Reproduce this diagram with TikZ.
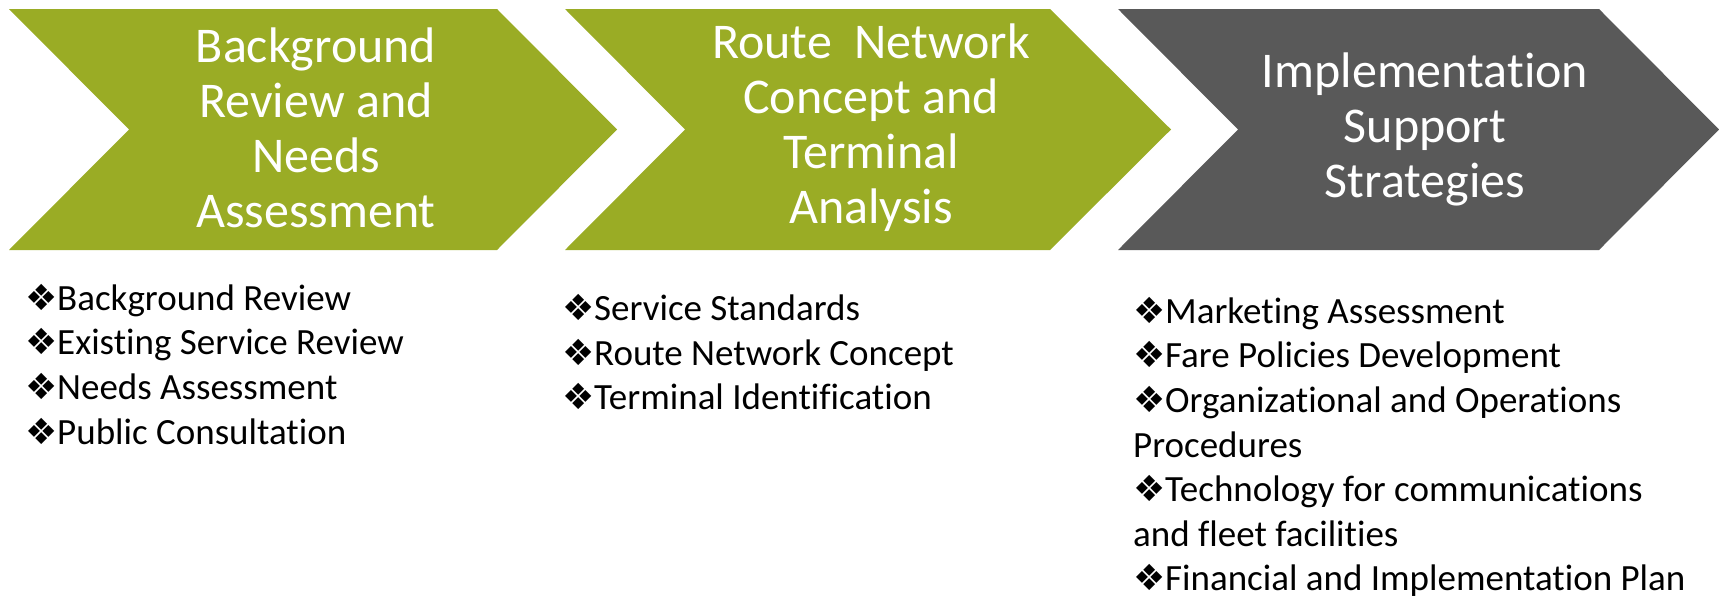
\documentclass[tikz,border=0pt]{standalone}
\usepackage{fontspec}
\setmainfont{Carlito}[Ligatures=NoCommon]
\newfontfamily\symfont{DejaVu Sans}
\definecolor{chgreen}{HTML}{9AAC25}
\definecolor{chgrey}{HTML}{595959}
\newcommand{\dia}{\makebox[32pt][l]{\symfont\fontsize{36}{36}\selectfont\char"2756}}
\begin{document}
\begin{tikzpicture}[x=1pt,y=-1pt,
  chevtext/.style={text=white,align=center,inner sep=0pt,font=\fontsize{50}{55}\selectfont},
  item/.style={anchor=base west,inner sep=0pt,text=black,font=\fontsize{37}{45}\selectfont}]
\useasboundingbox (0,0) rectangle (1719,597);
% chevrons
\fill[chgreen] (9,9) -- (497,9) -- (617,129.5) -- (497,250) -- (9,250) -- (129,129.5) -- cycle;
\fill[chgreen] (565,9) -- (1050,9) -- (1171,129.5) -- (1050,250) -- (565,250) -- (685,129.5) -- cycle;
\fill[chgrey] (1118,9) -- (1599,9) -- (1719,129.5) -- (1599,250) -- (1118,250) -- (1238,129.5) -- cycle;
% chevron texts
\node[chevtext] (t1) at (316,128) {Background\\Review and\\Needs\\Assessment};
\node[chevtext] (t2) at (871,128) {Route~~Network\\Concept and\\Terminal\\Analysis};
\node[chevtext] (t3) at (1425,129) {Implementation\\Support\\Strategies};
% list 1
\node[item] (a1) at (25,310) {\dia Background Review};
\node[item] (a2) at (25,354) {\dia Existing Service Review};
\node[item] (a3) at (25,399) {\dia Needs Assessment};
\node[item] (a4) at (25,444) {\dia Public Consultation};
% list 2
\node[item] (b1) at (562,320) {\dia Service Standards};
\node[item] (b2) at (562,365) {\dia Route Network Concept};
\node[item] (b3) at (562,409) {\dia Terminal Identification};
% list 3
\node[item] (c1) at (1133,323) {\dia Marketing Assessment};
\node[item] (c2) at (1133,367) {\dia Fare Policies Development};
\node[item] (c3) at (1133,412) {\dia Organizational and Operations};
\node[item] (c4) at (1133,457) {Procedures};
\node[item] (c5) at (1133,501) {\dia Technology for communications};
\node[item] (c6) at (1133,546) {and fleet facilities};
\node[item] (c7) at (1133,590) {\dia Financial and Implementation Plan};
\end{tikzpicture}
\end{document}
